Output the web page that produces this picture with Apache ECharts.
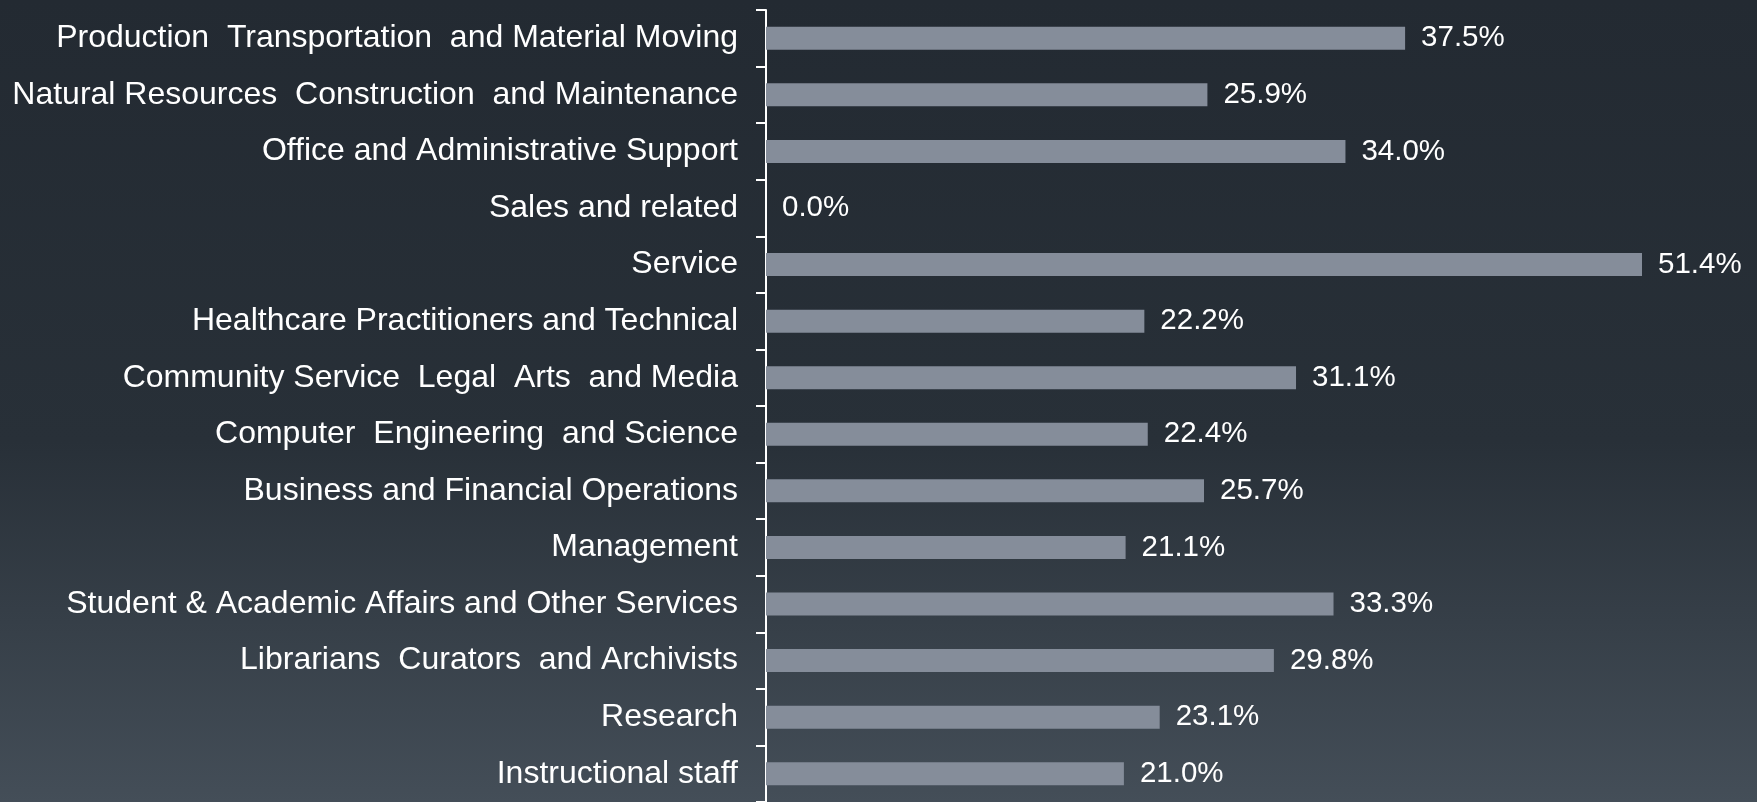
<!DOCTYPE html>
<html>
<head>
<meta charset="utf-8">
<script src="https://cdn.jsdelivr.net/npm/echarts@6/dist/echarts.min.js"></script>
<style>
  html, body { margin: 0; padding: 0; }
  #main { width: 1757px; height: 802px; }
</style>
</head>
<body>
<div id="main"></div>
<script>
  // categories, top to bottom
  var categories = [
    'Production  Transportation  and Material Moving',
    'Natural Resources  Construction  and Maintenance',
    'Office and Administrative Support',
    'Sales and related',
    'Service',
    'Healthcare Practitioners and Technical',
    'Community Service  Legal  Arts  and Media',
    'Computer  Engineering  and Science',
    'Business and Financial Operations',
    'Management',
    'Student & Academic Affairs and Other Services',
    'Librarians  Curators  and Archivists',
    'Research',
    'Instructional staff'
  ];
  var shares = [37.5, 25.9, 34.0, 0.0, 51.4, 22.2, 31.1, 22.4, 25.7, 21.1, 33.3, 29.8, 23.1, 21.0];

  var chart = echarts.init(document.getElementById('main'));
  var option = {
    backgroundColor: new echarts.graphic.LinearGradient(0, 0, 0, 1, [
      { offset: 0, color: '#232a32' },
      { offset: 0.55, color: '#283038' },
      { offset: 1, color: '#444e58' }
    ]),
    textStyle: { fontFamily: 'Liberation Sans, Arial, sans-serif' },
    grid: {
      left: 766,
      right: 115,
      top: 10,
      bottom: 0
    },
    xAxis: {
      type: 'value',
      min: 0,
      max: 'dataMax',
      show: false
    },
    yAxis: {
      type: 'category',
      inverse: true,
      data: categories,
      axisLine: { show: true, lineStyle: { color: '#ffffff', width: 2 } },
      axisTick: { show: true, length: 10, lineStyle: { color: '#ffffff', width: 2 } },
      axisLabel: { color: '#ffffff', fontSize: 32, margin: 28, padding: [7, 0, 0, 0] },
      splitLine: { show: false }
    },
    series: [{
      type: 'bar',
      data: shares,
      barWidth: 23,
      itemStyle: { color: '#858d9a' },
      label: {
        show: true,
        position: 'right',
        distance: 16,
        color: '#ffffff',
        fontSize: 29.5,
        padding: [6, 0, 0, 0],
        formatter: function (p) { return p.value.toFixed(1) + '%'; }
      }
    }],
    animation: false
  };
  chart.setOption(option);
</script>
</body>
</html>
